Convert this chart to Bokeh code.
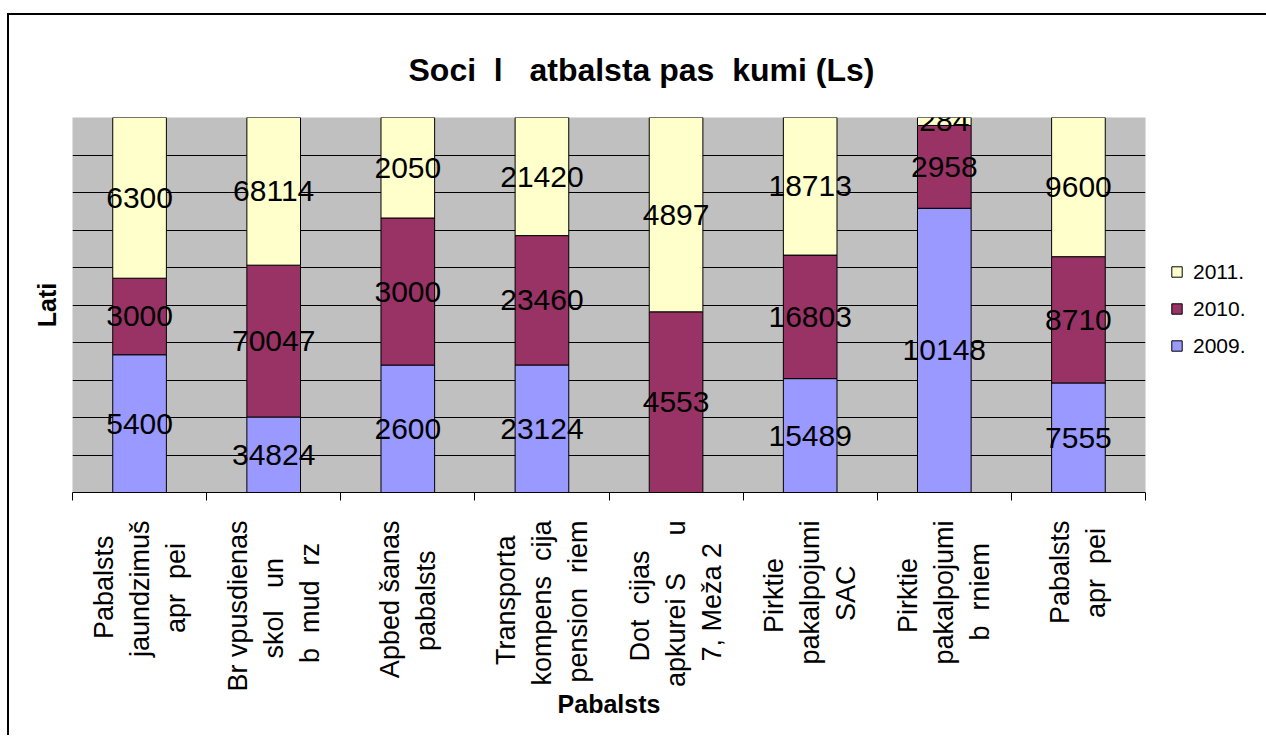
from bokeh.plotting import figure
from bokeh.models import (Range1d, FixedTicker, Legend, LegendItem, ColumnDataSource)
from bokeh.core.properties import value
from bokeh.embed import file_html
from bokeh.resources import INLINE

# ---- data ----
categories = [
    "Pabalsts\njaundzimuš\napr\u00a0\u00a0pei",
    "Br\u00a0vpusdienas\nskol\u00a0\u00a0\u00a0un\nb\u00a0\u00a0mud\u00a0\u00a0rz",
    "Apbed\u00a0šanas\npabalsts",
    "Transporta\nkompens\u00a0\u00a0cija\npension\u00a0\u00a0riem",
    "Dot\u00a0\u00a0cijas\napkurei\u00a0S\u00a0\u00a0\u00a0\u00a0\u00a0u\n7,\u00a0Meža\u00a02",
    "Pirktie\npakalpojumi\nSAC",
    "Pirktie\npakalpojumi\nb\u00a0\u00a0rniem",
    "Pabalsts\napr\u00a0\u00a0pei",
]
years = ["2009.", "2010.", "2011."]
v2009 = [5400, 34824, 2600, 23124, 0, 15489, 10148, 7555]
v2010 = [3000, 70047, 3000, 23460, 4553, 16803, 2958, 8710]
v2011 = [6300, 68114, 2050, 21420, 4897, 18713, 284, 9600]
colors = ["#9999FF", "#993366", "#FFFFCC"]
grid_ticks = [0.1, 0.2, 0.3, 0.4, 0.5, 0.6, 0.7, 0.8, 0.9]
title_text = "Soci\u00a0\u00a0l\u00a0\u00a0\u00a0atbalsta pas\u00a0\u00a0kumi (Ls)"

FONT = "Liberation Sans"

# approximate Arial advance widths (1/1000 em), used only to centre the
# lines of the rotated category labels on one another
_W = dict(zip("abcdefghijklmnopqrstuvwxyz",
              [556, 556, 500, 556, 556, 278, 556, 556, 222, 222, 500, 222, 833,
               556, 556, 556, 556, 333, 500, 278, 556, 500, 722, 500, 500, 500]))
_W.update({"\u00a0": 278, " ": 278, ",": 278, "š": 500, "ž": 500, "A": 667,
           "B": 667, "C": 722, "D": 722, "M": 833, "P": 667, "S": 667, "T": 611})


def _width(s):
    return sum(_W.get(ch, 556) for ch in s)


def centred(label):
    lines = label.split("\n")
    m = max(_width(l) for l in lines)
    return "\n".join(l + "\u00a0" * round((m - _width(l)) / 2 / 278) for l in lines)


n = len(categories)
pos = [i + 0.5 for i in range(n)]          # category centres on the axis
series = [v2009, v2010, v2011]
totals = [sum(s[i] for s in series) for i in range(n)]
data = {"x": pos}
fields = []
for name, s in zip(years, series):
    f = "f" + name.strip(".")
    fields.append(f)
    data[f] = [v / t for v, t in zip(s, totals)]
src = ColumnDataSource(data)

# label positions (centre of each stacked segment, 100% scale)
lx, ly, lt = [], [], []
base = [0.0] * n
for s in series:
    for i, v in enumerate(s):
        frac = v / totals[i]
        if v > 0:
            lx.append(pos[i])
            ly.append(base[i] + frac / 2)
            lt.append(str(v))
        base[i] += frac
lsrc = ColumnDataSource(dict(x=lx, y=ly, t=lt))

p = figure(x_range=Range1d(0, n), y_range=Range1d(0, 1),
           frame_width=1073, frame_height=375,
           min_border_left=63, min_border_top=102, min_border_right=120,
           min_border_bottom=243,
           output_backend="svg", toolbar_location=None,
           background_fill_color="#C0C0C0", border_fill_color="white",
           outline_line_color=None)

p.styles = {"border-left": "2px solid black", "border-top": "2px solid black",
            "margin-top": "13px", "margin-left": "7px"}

p.title.text = title_text
p.title.text_font = FONT
p.title.text_font_size = "32px"
p.title.text_font_style = "bold"
p.title.text_color = "black"
p.title.align = "left"
p.title.offset = 336
p.title.standoff = 60

# grid
p.xgrid.visible = False
p.ygrid.ticker = FixedTicker(ticks=grid_ticks)
p.ygrid.grid_line_color = "black"
p.ygrid.grid_line_width = 1

# y axis: only the title
p.yaxis.ticker = FixedTicker(ticks=[])
p.yaxis.axis_line_color = None
p.yaxis.major_tick_line_color = None
p.yaxis.minor_tick_line_color = None
p.yaxis.axis_label = "Lati"
p.yaxis.axis_label_text_font = FONT
p.yaxis.axis_label_text_font_size = "25px"
p.yaxis.axis_label_text_font_style = "bold"
p.yaxis.axis_label_text_color = "black"
p.yaxis.axis_label_standoff = 12

# bars
rends = p.vbar_stack(fields, x="x", width=0.4, source=src, color=colors,
                     line_color="black", line_width=1)

p.text(x="x", y="y", text="t", source=lsrc, text_align="center",
       text_baseline="middle", text_font=value(FONT), text_font_size="30px",
       text_color="black")

# x axis: labels at category centres, tick marks at category boundaries
xa = p.xaxis[0]
xa.ticker = FixedTicker(ticks=pos, minor_ticks=list(range(n + 1)))
xa.major_label_overrides = {x: centred(c) for x, c in zip(pos, categories)}
xa.axis_line_color = "black"
xa.major_tick_line_color = None
xa.minor_tick_line_color = "black"
xa.minor_tick_in = 0
xa.minor_tick_out = 8
xa.major_label_orientation = 1.5708
xa.major_label_text_font = FONT
xa.major_label_text_font_size = "27px"
xa.major_label_text_line_height = 1.2
xa.major_label_text_color = "black"
xa.major_label_standoff = 20
xa.axis_label = "Pabalsts"
xa.axis_label_text_font = FONT
xa.axis_label_text_font_size = "25px"
xa.axis_label_text_font_style = "bold"
xa.axis_label_text_color = "black"
xa.axis_label_standoff = -5

legend = Legend(items=[LegendItem(label=years[i], renderers=[rends[i]]) for i in (2, 1, 0)],
                location=(25, 134), orientation="vertical",
                label_text_font=FONT, label_text_font_size="21px",
                label_text_color="black",
                glyph_width=13, glyph_height=13, label_standoff=10,
                label_height=25, spacing=12, padding=10, margin=0,
                border_line_color=None, background_fill_alpha=0)
p.add_layout(legend, "right")

open("out.html", "w").write(file_html(p, INLINE))
